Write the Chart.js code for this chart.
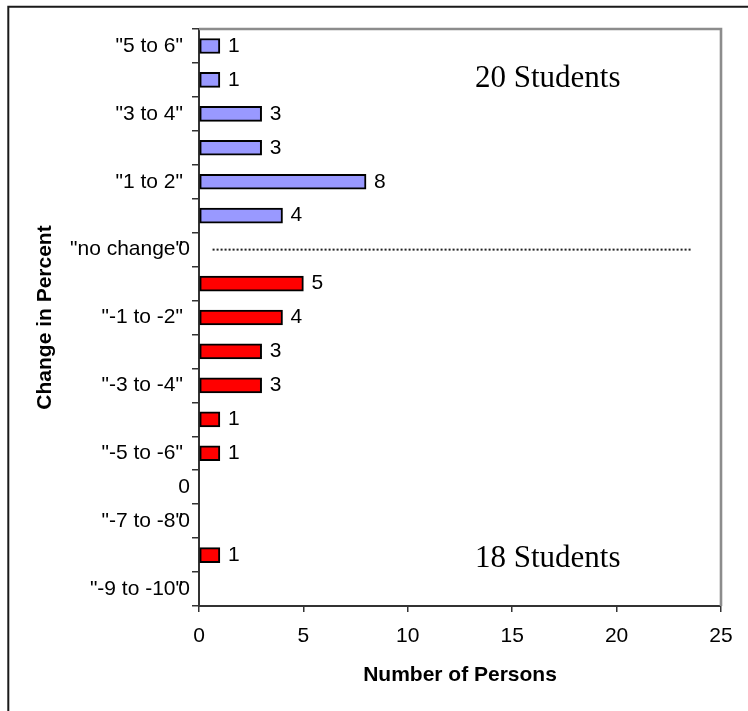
<!DOCTYPE html>
<html>
<head>
<meta charset="utf-8">
<script src="https://cdn.jsdelivr.net/npm/chart.js@4/dist/chart.umd.min.js"></script>
<style>
  html, body { margin: 0; padding: 0; background: #fff; }
  canvas { display: block; }
</style>
</head>
<body>
<canvas id="chart" width="748" height="711"></canvas>
<script>
// Change-in-percent bands, top to bottom
const categories = [
  '"5 to 6"', '"4 to 5"', '"3 to 4"', '"2 to 3"', '"1 to 2"', '"0 to 1"',
  '"no change"',
  '"0 to -1"', '"-1 to -2"', '"-2 to -3"', '"-3 to -4"', '"-4 to -5"',
  '"-5 to -6"', '"-6 to -7"', '"-7 to -8"', '"-8 to -9"', '"-9 to -10"'
];
// Number of persons in each band
const persons = [1, 1, 3, 3, 8, 4, 0, 5, 4, 3, 3, 1, 1, 0, 0, 1, 0];
// Value-axis ticks
const xTicks = [0, 5, 10, 15, 20, 25];
// Value range covered by the dotted "no change" divider
const dividerSpan = [0.65, 23.6];

const neutralIndex = categories.indexOf('"no change"');
const gainTotal = persons.slice(0, neutralIndex).reduce((a, b) => a + b, 0);
const lossTotal = persons.slice(neutralIndex + 1).reduce((a, b) => a + b, 0);

const SANS = '"Liberation Sans", Arial, sans-serif';
const SERIF = '"Liberation Serif", "Times New Roman", serif';
Chart.defaults.font.family = SANS;
Chart.defaults.color = '#000';

const decorations = {
  id: 'decorations',
  beforeDraw(chart) {
    const { ctx, width, height } = chart;
    ctx.save();
    ctx.fillStyle = '#fff';
    ctx.fillRect(0, 0, width, height);
    // outer frame (left and top edges)
    ctx.strokeStyle = '#1a1a1a';
    ctx.lineWidth = 2;
    ctx.beginPath();
    ctx.moveTo(8.3, height + 5);
    ctx.lineTo(8.3, 6.7);
    ctx.lineTo(width + 5, 6.7);
    ctx.stroke();
    ctx.restore();
  },
  beforeDatasetsDraw(chart) {
    const { ctx, chartArea: a, scales } = chart;
    ctx.save();
    // plot-area frame, top and right sides
    ctx.strokeStyle = '#8c8c8c';
    ctx.lineWidth = 2.6;
    ctx.beginPath();
    ctx.moveTo(a.left, a.top);
    ctx.lineTo(a.right, a.top);
    ctx.lineTo(a.right, a.bottom);
    ctx.stroke();
    // dotted divider on the "no change" row
    const y = scales.y.getPixelForValue(neutralIndex);
    ctx.strokeStyle = '#222';
    ctx.lineWidth = 2;
    ctx.setLineDash([2, 2]);
    ctx.beginPath();
    ctx.moveTo(scales.x.getPixelForValue(dividerSpan[0]), y);
    ctx.lineTo(scales.x.getPixelForValue(dividerSpan[1]), y);
    ctx.stroke();
    ctx.restore();
  },
  afterDatasetsDraw(chart) {
    const { ctx, chartArea: a } = chart;
    const meta = chart.getDatasetMeta(0);
    ctx.save();
    ctx.fillStyle = '#000';
    ctx.textBaseline = 'middle';
    ctx.font = '21px ' + SANS;
    meta.data.forEach((bar, i) => {
      const v = persons[i];
      if (v > 0) {
        ctx.textAlign = 'left';
        ctx.fillText(String(v), bar.x + 8, bar.y);
      } else {
        ctx.textAlign = 'right';
        ctx.fillText(String(v), bar.x - 9, bar.y);
      }
    });
    // group totals
    ctx.font = '31px ' + SERIF;
    ctx.textAlign = 'center';
    const cx = a.left + 0.668 * (a.right - a.left);
    ctx.fillText(gainTotal + ' Students', cx, a.top + 50);
    ctx.fillText(lossTotal + ' Students', cx, a.bottom - 47.5);
    ctx.restore();
  }
};

new Chart(document.getElementById('chart'), {
  type: 'bar',
  data: {
    labels: categories,
    datasets: [{
      data: persons,
      backgroundColor: ctx => ctx.dataIndex < neutralIndex ? '#9999FF' : '#FF0000',
      borderColor: '#000',
      borderWidth: 2,
      borderSkipped: false,
      barThickness: 15
    }]
  },
  options: {
    indexAxis: 'y',
    responsive: false,
    animation: false,
    events: [],
    layout: { padding: { top: 29, right: 27, left: 0, bottom: 0 } },
    plugins: {
      legend: { display: false },
      tooltip: { enabled: false }
    },
    scales: {
      y: {
        type: 'category',
        offset: true,
        grid: { offset: true, drawOnChartArea: false, drawTicks: true, tickLength: 7, color: '#333', lineWidth: 1.5 },
        border: { display: true, color: '#333', width: 2 },
        ticks: {
          autoSkip: false,
          padding: 9,
          color: '#000',
          font: { size: 21 },
          callback(value, index) { return index % 2 === 0 ? this.getLabelForValue(value) : ''; }
        },
        title: {
          display: true,
          text: 'Change in Percent',
          color: '#000',
          font: { size: 21, weight: 'bold' },
          padding: { top: 33, bottom: 0 }
        },
        afterFit(scale) { scale.width = 199; }
      },
      x: {
        min: xTicks[0],
        max: xTicks[xTicks.length - 1],
        grid: { drawOnChartArea: false, drawTicks: true, tickLength: 6, color: '#333', lineWidth: 1.5 },
        border: { display: true, color: '#333', width: 2 },
        ticks: { padding: 12, color: '#000', font: { size: 21 }, maxRotation: 0 },
        afterBuildTicks(scale) { scale.ticks = xTicks.map(v => ({ value: v })); },
        title: {
          display: true,
          text: 'Number of Persons',
          color: '#000',
          font: { size: 21, weight: 'bold' },
          padding: { top: 0, bottom: 23 }
        },
        afterFit(scale) { scale.height = 105; }
      }
    }
  },
  plugins: [decorations]
});
</script>
</body>
</html>
